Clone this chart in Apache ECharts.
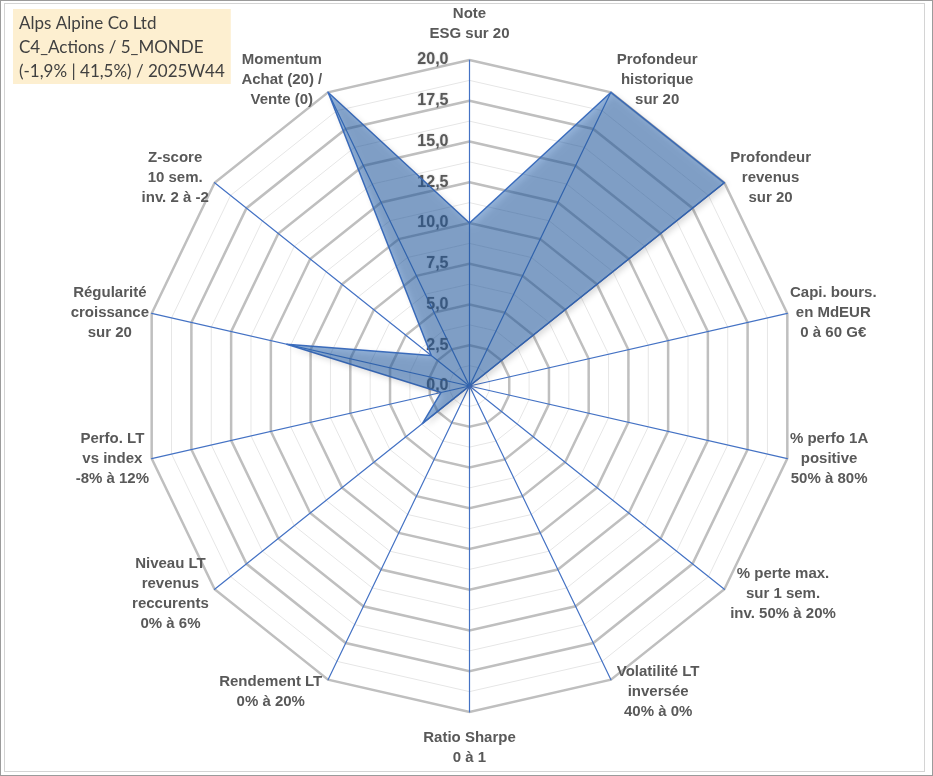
<!DOCTYPE html>
<html>
<head>
    <meta charset="utf-8">
    <title>Alps Alpine Co Ltd - radar</title>
    <script src="https://cdn.jsdelivr.net/npm/echarts@6/dist/echarts.min.js"></script>
    <style>
        html, body { margin: 0; padding: 0; background: #fff; }
        #frame {
            position: absolute; left: 0; top: 0;
            width: 931px; height: 774px;
            border: 1px solid #9b9b9b;
        }
        #inner {
            position: absolute; left: 3px; top: 2px;
            width: 919px; height: 767px;
            border: 1px solid #d4d4d4;
        }
        #container { position: absolute; left: 0; top: 0; width: 933px; height: 776px; }
    </style>
</head>
<body>
    <div id="frame"><div id="inner"></div></div>
    <div id="container"></div>

    <script>
    // axes, clockwise from the top
    var axisNames = [
        'Note\nESG sur 20',
        'Profondeur\nhistorique\nsur 20',
        'Profondeur\nrevenus\nsur 20',
        'Capi. bours.\nen MdEUR\n0 à 60 G€',
        '% perfo 1A\npositive\n50% à 80%',
        '% perte max.\nsur 1 sem.\ninv. 50% à 20%',
        'Volatilité LT\ninversée\n40% à 0%',
        'Ratio Sharpe\n0 à 1',
        'Rendement LT\n0% à 20%',
        'Niveau LT\nrevenus\nreccurents\n0% à 6%',
        'Perfo. LT\nvs index\n-8% à 12%',
        'Régularité\ncroissance\nsur 20',
        'Z-score\n10 sem.\ninv. 2 à -2',
        'Momentum\nAchat (20) /\nVente (0)'
    ];
    var scores = [10, 20, 20, 0, 0, 0, 0, 0, 0, 3.7, 1.8, 11.5, 3.0, 20];
    var scaleMax = 20;
    var titleLines = ['Alps Alpine Co Ltd', 'C4_Actions / 5_MONDE', '(-1,9% | 41,5%) / 2025W44'];

    // echarts radar runs counter-clockwise: keep the top axis, reverse the rest
    function ccw(arr) {
        return [arr[0]].concat(arr.slice(1).reverse());
    }

    var nameStyle = {
        fontFamily: 'Liberation Sans',
        fontWeight: 'bold',
        fontSize: 15,
        lineHeight: 20,
        color: '#595959',
        align: 'center'
    };

    var n = axisNames.length;
    var indicators = ccw(axisNames).map(function (name, i) {
        // labels near top/bottom sit a bit further out, side labels hug the vertex
        var c = Math.cos(i * 2 * Math.PI / n);
        var ind = { name: name, min: 0, max: scaleMax, nameGap: 2 + 14 * c * c };
        if (i == 0) ind.axisLabel = { show: true };
        return ind;
    });
    var minorIndicators = ccw(axisNames).map(function (name) {
        return { name: name, min: 0, max: scaleMax };
    });

    var center = [469.5, 386];
    var radius = 326;

    var myChart = echarts.init(document.getElementById('container'));

    var option = {
        animation: false,
        title: {
            text: titleLines.join('\n'),
            left: 13,
            top: 9,
            padding: [3, 6, 0, 6],
            backgroundColor: '#fdefd0',
            textStyle: {
                fontFamily: 'Lato',
                fontWeight: 'normal',
                fontSize: 17,
                lineHeight: 24,
                color: '#404040'
            }
        },
        radar: [{
            // thin minor rings
            center: center,
            radius: radius,
            shape: 'polygon',
            splitNumber: 16,
            indicator: minorIndicators,
            axisName: { show: false },
            axisLine: { show: false },
            axisTick: { show: false },
            axisLabel: { show: false },
            splitArea: { show: false },
            splitLine: { lineStyle: { color: '#e6e6e6', width: 1 } }
        }, {
            // major rings, spokes, names, tick labels
            center: center,
            radius: radius,
            shape: 'polygon',
            splitNumber: 8,
            indicator: indicators,
            axisName: {
                formatter: function (name) {
                    return name.split('\n').map(function (l) { return '{a|' + l + '}'; }).join('\n');
                },
                color: '#595959',
                fontFamily: 'Liberation Sans',
                fontWeight: 'bold',
                fontSize: 15,
                lineHeight: 20,
                rich: { a: nameStyle }
            },
            axisLine: { lineStyle: { color: '#4472c4', width: 1.2 } },
            axisTick: { show: false },
            axisLabel: {
                show: false,
                margin: 21,
                fontFamily: 'Liberation Sans',
                fontWeight: 'bold',
                fontSize: 16,
                color: '#595959',
                textShadowColor: 'rgba(0,0,0,0.25)',
                textShadowBlur: 2,
                formatter: function (v) { return v.toFixed(1).replace('.', ','); }
            },
            splitArea: { show: false },
            splitLine: { lineStyle: { color: '#bfbfbf', width: 2.5 } }
        }],
        series: [{
            type: 'radar',
            radarIndex: 1,
            symbol: 'none',
            lineStyle: { color: '#4472c4', width: 1.5 },
            areaStyle: {
                color: 'rgba(40, 100, 178, 0.72)',
                shadowColor: 'rgba(0,0,0,0.3)',
                shadowBlur: 6,
                shadowOffsetX: 3,
                shadowOffsetY: 3
            },
            data: [{ value: ccw(scores), name: 'Score' }]
        }]
    };

    myChart.setOption(option);
    </script>
</body>
</html>
